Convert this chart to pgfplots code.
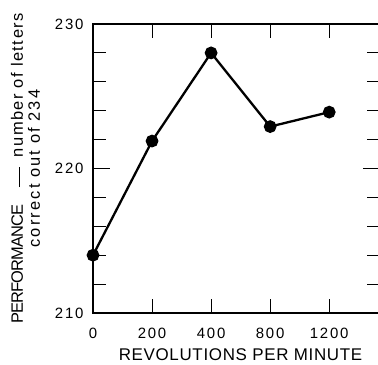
\documentclass[border=0pt]{standalone}
\usepackage{fontspec}
\setmainfont{Liberation Sans}
\newfontfamily\xlab[LetterSpace=4]{Liberation Sans}
\newfontfamily\tickf[LetterSpace=12]{Liberation Sans}
\newfontfamily\capf[LetterSpace=-5]{Liberation Sans}
\newfontfamily\lowf[LetterSpace=9]{Liberation Sans}
\newfontfamily\lowff[LetterSpace=13]{Liberation Sans}
\usepackage{pgfplots}
\pgfplotsset{compat=1.18}
\begin{document}
\begin{tikzpicture}
\begin{axis}[
  scale only axis,
  width=287bp, height=289bp,
  at={(0,0)}, anchor=south west,
  xmin=0, xmax=4.86,
  ymin=210, ymax=230,
  xtick={0,1,2,3,4},
  xticklabels={0,200,400,800,1200},
  ytick={210,220,230},
  minor ytick={212,214,216,218,222,224,226,228},
  tick align=inside,
  major tick length=17bp,
  minor tick length=13bp,
  xtick style={/pgfplots/major tick length=14bp},
  tick style={line width=1.1bp, black},
  axis line style={line width=1.4bp},
  /pgf/number format/assume math mode=true,
  ticklabel style={font=\tickf\fontsize{15}{18}\selectfont},
  xticklabel style={yshift=-12bp},
  yticklabel style={xshift=-6bp},
  xlabel={REVOLUTIONS PER MINUTE},
  xlabel style={font=\xlab\fontsize{17}{20}\selectfont, at={(axis description cs:0.514,0)}, anchor=north, yshift=-32bp},
  ylabel={{\capf PERFORMANCE}\hspace{17bp}\raisebox{0.3ex}{\rule{20bp}{1.6bp}}\hspace{10bp}{\lowf number of letters}\\{\lowff correct out of 234}},
  ylabel style={font=\fontsize{16.5}{17}\selectfont, align=center, at={(axis description cs:-0.235,0.5)}, anchor=center},
]
\addplot[black, line width=2.3bp, mark=*, mark size=5.2bp] coordinates {
  (0,214) (1,221.9) (2,228) (3,222.9) (4,223.9)
};
\end{axis}
\pgfresetboundingbox
\useasboundingbox (-93bp,-52bp) rectangle (285bp,313bp);
\end{tikzpicture}
\end{document}
